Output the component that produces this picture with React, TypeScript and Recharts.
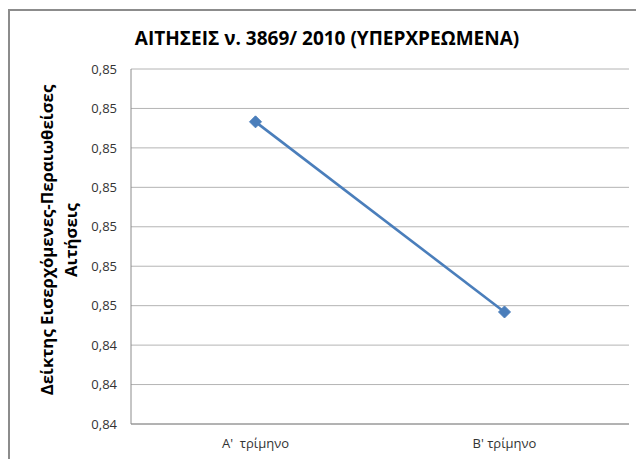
import React from "react";
import { LineChart, Line, XAxis, YAxis, CartesianGrid } from "recharts";

const categories = ["A'  τρίμηνο", "B' τρίμηνο"];
const values = [0.84733, 0.84492];
const yTicks = [0.8435, 0.844, 0.8445, 0.845, 0.8455, 0.846, 0.8465, 0.847, 0.8475, 0.848];
const yTickLabels = ["0,84", "0,84", "0,84", "0,85", "0,85", "0,85", "0,85", "0,85", "0,85", "0,85"];
const title = "ΑΙΤΗΣΕΙΣ ν. 3869/ 2010 (ΥΠΕΡΧΡΕΩΜΕΝΑ)";
const yTitleLines = ["Δείκτης Εισερχόμενες-Περαιωθείσες", "Αιτήσεις"];

const data = categories.map((c, i) => ({ name: c, value: values[i] }));

const FONT = "'Open Sans', sans-serif";
const BLUE = "#4a7ebb";

const Diamond = (props: any) => {
  const { cx, cy } = props;
  if (cx == null || cy == null) return null;
  const r = 6;
  return (
    <polygon
      points={`${cx},${cy - r} ${cx + r},${cy} ${cx},${cy + r} ${cx - r},${cy}`}
      fill={BLUE}
      stroke={BLUE}
      strokeWidth={1}
    />
  );
};

const XTick = (props: any) => {
  const { x, y, payload } = props;
  return (
    <text
      x={x}
      y={y}
      dy="0.9em"
      textAnchor="middle"
      fontFamily={FONT}
      fontSize={13}
      fill="#333"
      style={{ whiteSpace: "pre" }}
      xmlSpace="preserve"
    >
      {payload.value}
    </text>
  );
};

const YTitle = () => {
  const cy = 240;
  const xs = [46, 70];
  return (
    <g>
      {yTitleLines.map((t, i) => (
        <text
          key={i}
          x={xs[i]}
          y={cy}
          transform={`rotate(-90, ${xs[i]}, ${cy})`}
          textAnchor="middle"
          dominantBaseline="central"
          fontFamily={FONT}
          fontWeight={700}
          fontSize={16.8}
          fill="#000"
        >
          {t}
        </text>
      ))}
    </g>
  );
};

export default function App() {
  return (
    <div
      style={{
        position: "fixed",
        left: 0,
        top: 0,
        width: 636,
        height: 459,
        overflow: "hidden",
        background: "#fff",
      }}
    >
      <div
        style={{
          position: "absolute",
          left: 8,
          top: 9,
          width: 800,
          height: 800,
          borderLeft: "2px solid #8c8c8c",
          borderTop: "2px solid #8c8c8c",
          boxSizing: "border-box",
        }}
      />
      <div
        style={{
          position: "absolute",
          left: 77,
          top: 29,
          width: 500,
          textAlign: "center",
          fontFamily: FONT,
          fontWeight: 700,
          fontSize: 19,
          lineHeight: "19px",
          color: "#000",
          whiteSpace: "nowrap",
        }}
      >
        {title}
      </div>
      <div style={{ position: "absolute", left: 0, top: 0 }}>
        <LineChart
          width={636}
          height={459}
          data={data}
          margin={{ top: 69, right: 7, bottom: 5, left: 0 }}
        >
          <CartesianGrid horizontal={true} vertical={false} stroke="#b4b4b4" />
          <XAxis
            dataKey="name"
            height={30}
            padding={{ left: 124.5, right: 124.5 }}
            axisLine={{ stroke: "#8c8c8c" }}
            tickLine={false}
            tickMargin={6}
            tick={<XTick />}
            interval={0}
          />
          <YAxis
            type="number"
            width={131}
            domain={[0.8435, 0.848]}
            ticks={yTicks}
            interval={0}
            allowDataOverflow
            axisLine={{ stroke: "#8c8c8c" }}
            tickLine={false}
            tickMargin={8}
            tick={{ fontFamily: FONT, fontSize: 13, fill: "#333" }}
            tickFormatter={(v: number) => {
              const idx = yTicks.findIndex((t) => Math.abs(t - v) < 1e-7);
              return idx >= 0 ? yTickLabels[idx] : "";
            }}
            label={{ content: () => <YTitle /> }}
          />
          <Line
            type="linear"
            dataKey="value"
            stroke={BLUE}
            strokeWidth={2.6}
            dot={<Diamond />}
            activeDot={false}
            isAnimationActive={false}
          />
        </LineChart>
      </div>
    </div>
  );
}
